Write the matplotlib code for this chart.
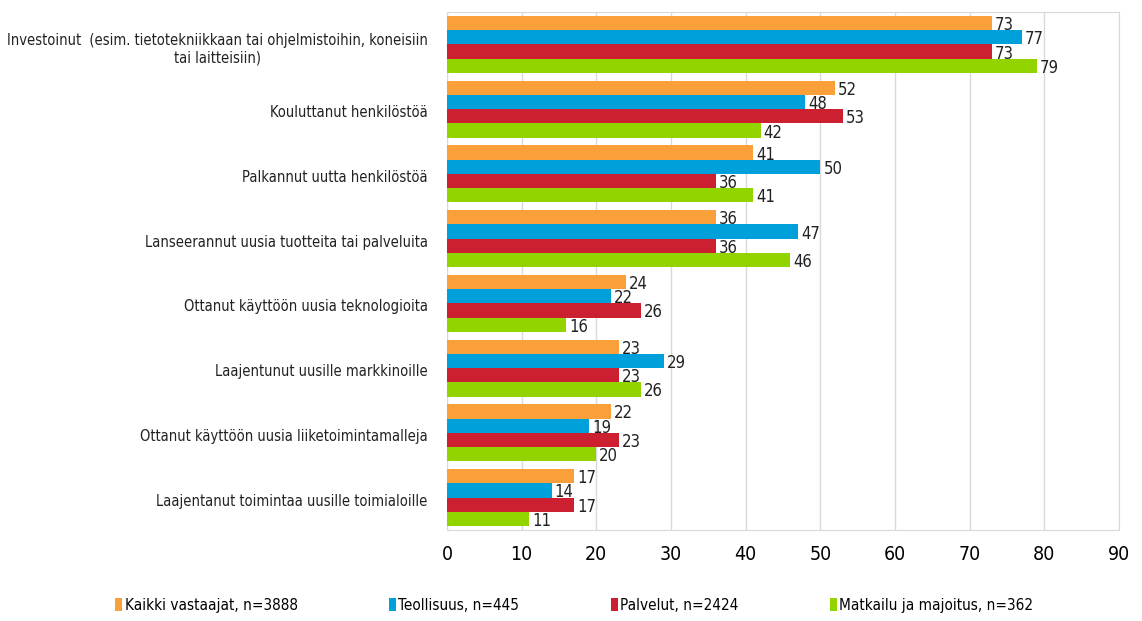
import matplotlib

matplotlib.use("Agg")
import matplotlib.pyplot as plt
import numpy as np
from matplotlib.patches import Patch

plt.rcParams["font.family"] = ["DejaVu Sans"]
plt.rcParams["font.stretch"] = "condensed"

categories = [
    "Investoinut  (esim. tietotekniikkaan tai ohjelmistoihin, koneisiin\ntai laitteisiin)",
    "Kouluttanut henkilöstöä",
    "Palkannut uutta henkilöstöä",
    "Lanseerannut uusia tuotteita tai palveluita",
    "Ottanut käyttöön uusia teknologioita",
    "Laajentunut uusille markkinoille",
    "Ottanut käyttöön uusia liiketoimintamalleja",
    "Laajentanut toimintaa uusille toimialoille",
]
series_names = [
    "Kaikki vastaajat, n=3888",
    "Teollisuus, n=445",
    "Palvelut, n=2424",
    "Matkailu ja majoitus, n=362",
]
kaikki = [73, 52, 41, 36, 24, 23, 22, 17]
teollisuus = [77, 48, 50, 47, 22, 29, 19, 14]
palvelut = [73, 53, 36, 36, 26, 23, 23, 17]
matkailu = [79, 42, 41, 46, 16, 26, 20, 11]
xticks = [0, 10, 20, 30, 40, 50, 60, 70, 80, 90]

colors = ["#F9A03A", "#00A0DA", "#CC2030", "#92D400"]
series = [kaikki, teollisuus, palvelut, matkailu]

fig = plt.figure(figsize=(11.42, 6.21), dpi=100)
ax = fig.add_axes([0.3914, 0.1465, 0.5885, 0.834])

n = len(categories)
y = np.arange(n)
h = 0.22
for i, (vals, col) in enumerate(zip(series, colors)):
    pos = y - 1.5 * h + i * h
    ax.barh(pos, vals, height=h, color=col, zorder=3)
    for p, v in zip(pos, vals):
        ax.text(v + 0.4, p + 0.03, f"{v}", va="center", ha="left",
                fontsize=12, color="#222222", zorder=4)

ax.set_ylim(n - 0.5, -0.5)
ax.set_xlim(0, 90)
ax.set_xticks(xticks)
ax.set_xticklabels([str(t) for t in xticks], fontsize=14)
ax.set_yticks(y + 0.03)
ax.set_yticklabels(categories, fontsize=10.5, color="#222222", multialignment="center")
ax.tick_params(axis="both", length=0)
ax.tick_params(axis="x", pad=11)
ax.tick_params(axis="y", pad=14)
ax.grid(axis="x", color="#d9d9d9", lw=1, zorder=0)
for s in ax.spines.values():
    s.set_color("#d9d9d9")

handles = [Patch(facecolor=c, edgecolor="none", label=l) for c, l in zip(colors, series_names)]
fig.legend(handles=handles, loc="center", bbox_to_anchor=(0.503, 0.025), ncol=4,
           frameon=False, fontsize=11, handlelength=0.45, handleheight=0.9,
           handletextpad=0.15, columnspacing=6.0)

fig.savefig("out.png", dpi=100)
